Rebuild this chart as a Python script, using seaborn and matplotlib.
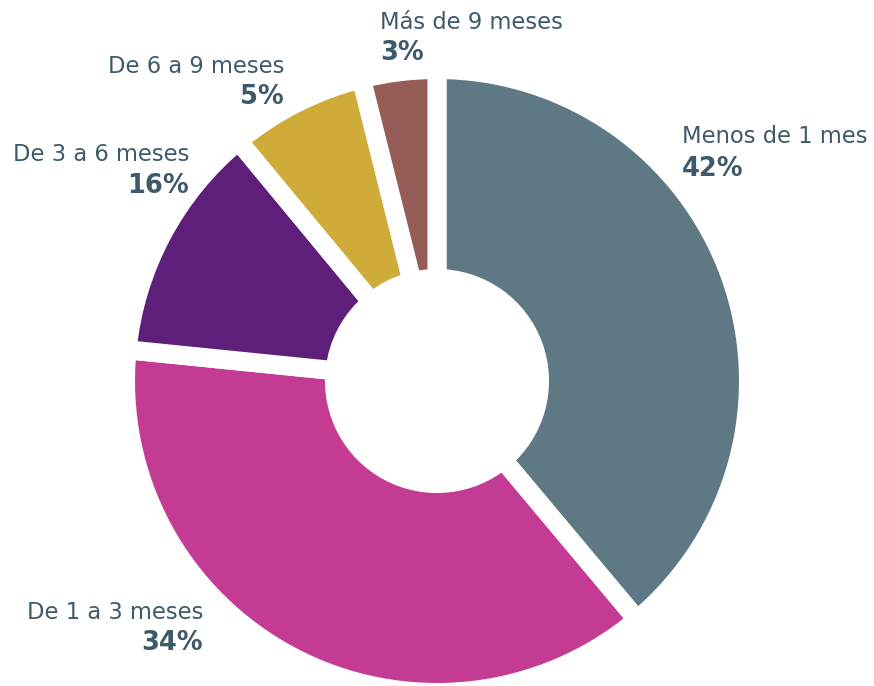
import matplotlib
matplotlib.use("Agg")
import matplotlib.pyplot as plt
import seaborn as sns

# ---- data ----
categories = ["Menos de 1 mes", "De 1 a 3 meses", "De 3 a 6 meses",
              "De 6 a 9 meses", "Más de 9 meses"]
shares = [38.9, 37.7, 12.4, 7.1, 3.9]          # wedge sizes
pct_labels = ["42%", "34%", "16%", "5%", "3%"]  # printed percentages
colors = ["#5e7984", "#c43b94", "#5e1f7a", "#cfab3a", "#965c56"]

sns.set_theme(style="white")
plt.rcParams["font.family"] = ["DejaVu Sans"]

W, H = 874, 686
fig = plt.figure(figsize=(W / 100, H / 100), dpi=100)
ax = fig.add_axes([0, 0, 1, 1])

cx, cy = 437, H - 381
ax.pie(shares, colors=sns.color_palette(colors), startangle=90, counterclock=False,
       center=(cx, cy), radius=311.5,
       wedgeprops=dict(width=209, edgecolor="white", linewidth=13.7,
                       joinstyle="miter"))
ax.set_xlim(0, W)
ax.set_ylim(0, H)
ax.set_aspect("equal")
ax.axis("off")

# label layout: (x, baseline of name, baseline of pct, ha)
layout = [
    (682, 143, 176, "left"),
    (203, 619, 650, "right"),
    (189, 161, 193, "right"),
    (284, 73, 104, "right"),
    (380, 29, 60, "left"),
]
txt_color = "#3d5a6a"
for name, pct, (x, y1, y2, ha) in zip(categories, pct_labels, layout):
    ax.text(x, H - y1, name, ha=ha, va="baseline", fontsize=16.3, color=txt_color)
    ax.text(x, H - y2, pct, ha=ha, va="baseline", fontsize=18.5, fontweight="bold",
            color=txt_color)

fig.savefig("out.png", dpi=100)
